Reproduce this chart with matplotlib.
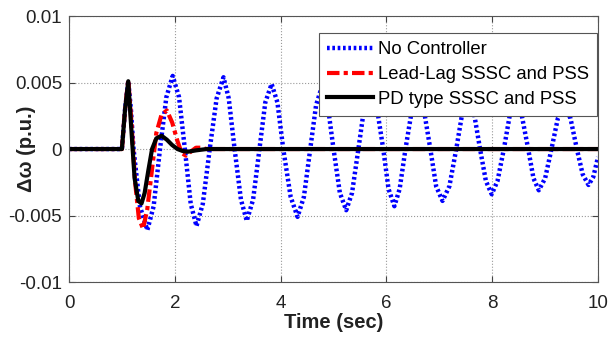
''' speed deviation response plot
'''
import matplotlib
import matplotlib.pyplot as plt
import matplotlib.ticker as mtick

matplotlib.use('Agg')
plt.rcParams['font.family'] = ['Liberation Sans', 'DejaVu Sans']

# values
t_none = [0, 1.0, 1.06, 1.12, 1.17, 1.22, 1.34, 1.48, 1.60, 1.72, 1.84, 1.96, 2.08,
          2.19, 2.30, 2.41, 2.53, 2.66, 2.79, 2.92, 3.02, 3.13, 3.25, 3.36, 3.48,
          3.60, 3.71, 3.83, 3.94, 4.05, 4.19, 4.32, 4.44, 4.56, 4.67, 4.78, 4.89,
          5.00, 5.12, 5.24, 5.35, 5.47, 5.58, 5.70, 5.82, 5.94, 6.04, 6.15, 6.25,
          6.36, 6.48, 6.60, 6.71, 6.83, 6.94, 7.06, 7.19, 7.32, 7.43, 7.55, 7.66,
          7.77, 7.88, 7.99, 8.10, 8.22, 8.33, 8.45, 8.56, 8.68, 8.78, 8.88, 9.00,
          9.12, 9.24, 9.36, 9.48, 9.60, 9.71, 9.82, 9.91, 10.0]
w_none = [0, 0, 0.0030, 0.0051, 0.0030, 0, -0.0043, -0.0061, -0.0043, 0, 0.0039, 0.0055, 0.0039,
          0, -0.0041, -0.0058, -0.0041, 0, 0.0038, 0.0054, 0.0038, 0, -0.0038, -0.0054, -0.0038,
          0, 0.0035, 0.0049, 0.0035, 0, -0.0036, -0.0051, -0.0036, 0, 0.0033, 0.0047, 0.0033,
          0, -0.0033, -0.0046, -0.0033, 0, 0.0031, 0.0044, 0.0031, 0, -0.0030, -0.0043, -0.0030,
          0, 0.0029, 0.0041, 0.0029, 0, -0.0028, -0.0039, -0.0028, 0, 0.0026, 0.0037, 0.0026,
          0, -0.0024, -0.0034, -0.0024, 0, 0.0025, 0.0035, 0.0025, 0, -0.0022, -0.0031, -0.0022,
          0, 0.0023, 0.0032, 0.0023, 0, -0.0019, -0.0027, -0.0021, -0.0006]

t_leadlag = [0, 1.0, 1.06, 1.12, 1.18, 1.25, 1.32, 1.40, 1.48, 1.57, 1.65, 1.75, 1.85,
             1.95, 2.05, 2.13, 2.21, 2.30, 2.40, 2.50, 2.60, 10.0]
w_leadlag = [0, 0, 0.0030, 0.0052, 0.0020, -0.0025, -0.0052, -0.0060, -0.0045, -0.0015,
             0.0012, 0.0026, 0.0029, 0.0020, 0.0006, -0.0003, -0.0005, -0.0002, 0.0001,
             0.0001, 0, 0]

t_pd = [0, 1.0, 1.06, 1.12, 1.17, 1.24, 1.31, 1.37, 1.43, 1.50, 1.57, 1.65, 1.75,
        1.85, 1.95, 2.05, 2.15, 2.25, 2.40, 2.60, 10.0]
w_pd = [0, 0, 0.0030, 0.0051, 0.0020, -0.0022, -0.0039, -0.0041, -0.0033, -0.0016,
        0.0, 0.0008, 0.0010, 0.0007, 0.0003, 0.0, -0.00015, -0.0002, -0.0001, 0, 0]

y_ticks = [-0.01, -0.005, 0, 0.005, 0.01]
y_labels = ['-0.01', '-0.005', '0', '0.005', '0.01']
x_ticks = [0, 2, 4, 6, 8, 10]

fig = plt.figure(figsize=(6.08, 3.42), dpi=100)
ax = fig.add_axes([0.1135, 0.1754, 0.8701, 0.7776])

ax.plot(t_none, w_none, color='#0000ff', linestyle=(0, (0.6, 0.6)), linewidth=3.2,
        label='No Controller')
ax.plot(t_leadlag, w_leadlag, color='#ff0000', linestyle=(0, (3, 1, 1, 1)), linewidth=3,
        label='Lead-Lag SSSC and PSS')
ax.plot(t_pd, w_pd, color='black', linestyle='-', linewidth=3,
        label='PD type SSSC and PSS')

ax.set_xlim(0, 10)
ax.set_ylim(-0.01, 0.01)
ax.set_xticks(x_ticks)
ax.set_yticks(y_ticks)
ax.yaxis.set_major_formatter(mtick.FixedFormatter(y_labels))
ax.tick_params(direction='in', top=True, right=True, labelsize=13.5, colors='#444444',
               length=4)
ax.tick_params(axis='x', pad=9.5)
ax.tick_params(axis='y', pad=5)
for lbl in ax.get_xticklabels() + ax.get_yticklabels():
    lbl.set_color('#222222')
ax.grid(True, linestyle=':', color='#999999', linewidth=0.8)
for sp in ax.spines.values():
    sp.set_color('#555555')

ax.set_xlabel('Time (sec)', fontsize=14.5, fontweight='bold', labelpad=0.5, color='#222222')
ax.set_ylabel('\u0394\u03c9 (p.u.)', fontsize=14.5, fontweight='bold', color='#222222')
ax.yaxis.set_label_coords(-0.062, 0.5)

leg = ax.legend(loc='upper right', fontsize=13.3, handlelength=2.5, fancybox=False,
                framealpha=1, edgecolor='#555555', borderpad=0.45, labelspacing=0.42,
                handletextpad=0.25, borderaxespad=0, bbox_to_anchor=(0.998, 0.936))
leg.get_frame().set_linewidth(0.8)

plt.savefig('out.png', format='png')
plt.close()
